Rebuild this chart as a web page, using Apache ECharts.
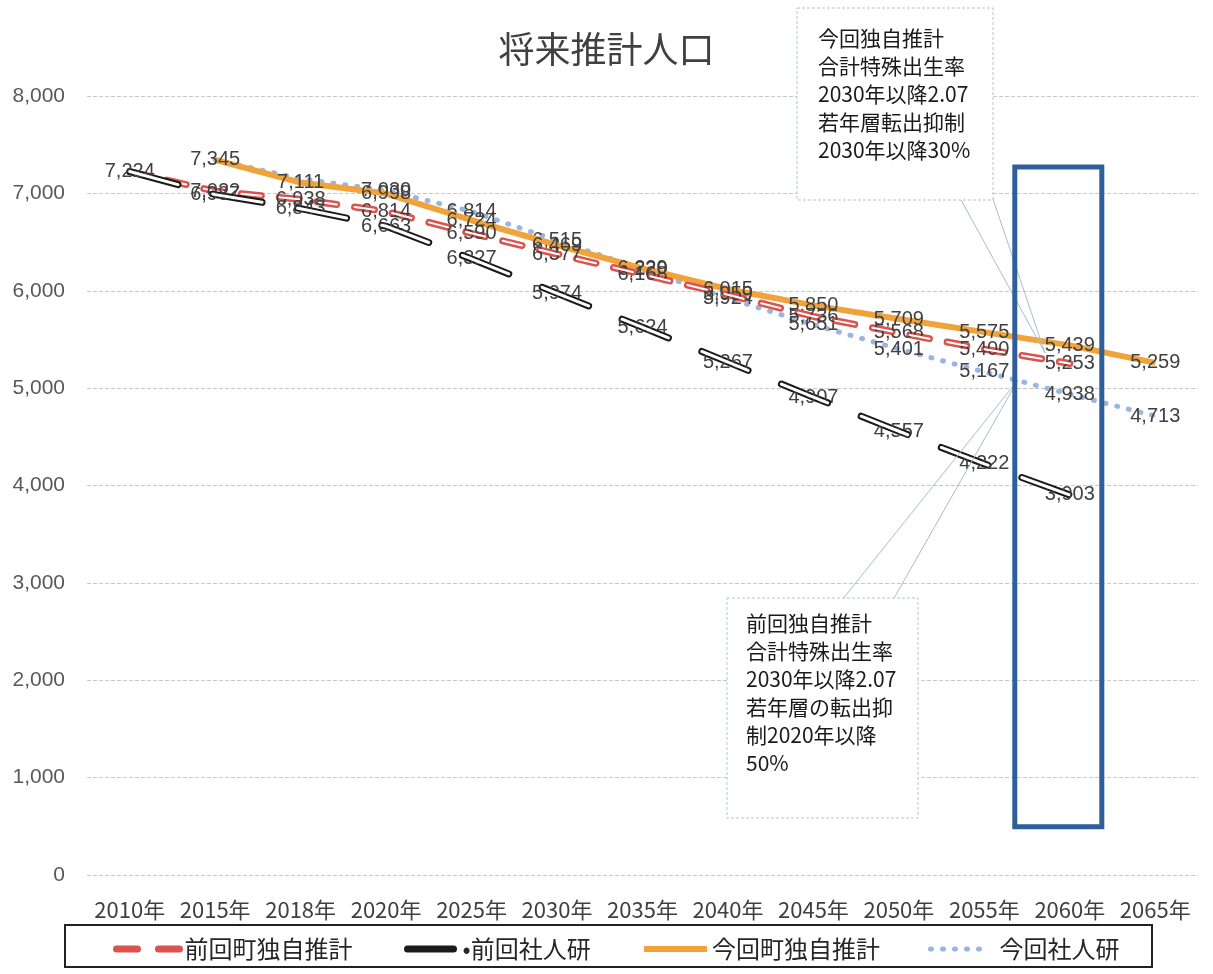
<!DOCTYPE html>
<html>
<head>
<meta charset="utf-8">
<script src="https://cdn.jsdelivr.net/npm/echarts@6/dist/echarts.min.js"></script>
<style>
html,body{margin:0;padding:0;background:#fff;}
#chart{width:1213px;height:974px;}
</style>
</head>
<body>
<div id="chart"></div>
<script>
const categories = ['2010年','2015年','2018年','2020年','2025年','2030年','2035年','2040年','2045年','2050年','2055年','2060年','2065年'];
const prevTown = [7224, 7022, 6938, 6814, 6590, 6377, 6168, 5959, 5736, 5568, 5400, 5253, null];
const prevIpss = [7224, 6987, 6843, 6663, 6327, 5974, 5624, 5267, 4907, 4557, 4222, 3903, null];
const curTown  = [null, 7345, 7111, 6998, 6724, 6469, 6229, 6015, 5850, 5709, 5575, 5439, 5259];
const curIpss  = [null, 7345, 7150, 7030, 6814, 6515, 6220, 5924, 5651, 5401, 5167, 4938, 4713];
const seriesNames = ['前回町独自推計', '前回社人研', '今回町独自推計', '今回社人研'];
const note1 = ['今回独自推計', '合計特殊出生率', '2030年以降2.07', '若年層転出抑制', '2030年以降30%'];
const note2 = ['前回独自推計', '合計特殊出生率', '2030年以降2.07', '若年層の転出抑', '制2020年以降', '50%'];

const FONT = '"Noto Sans CJK JP", "Noto Sans", sans-serif';
const NUMFONT = '"Liberation Sans", "Noto Sans", sans-serif';
function fmt(v){ return Number(v).toLocaleString('en-US'); }
function withHidden(arr, hide){
  return arr.map((v,i)=> hide.includes(i) ? {value:v, label:{show:false}} : v);
}
const labelStyle = {show:true, position:'inside', color:'#404040', fontSize:20, fontFamily:NUMFONT, formatter:p=>fmt(p.value)};
const legendText = {fontSize:24, color:'#262626', fontFamily:FONT};

const chart = echarts.init(document.getElementById('chart'));
const option = {
  backgroundColor:'#fff',
  animation:false,
  title:{text:'将来推計人口', left:'center', top:26, textStyle:{fontSize:36, fontWeight:'normal', color:'#404040', fontFamily:FONT}},
  grid:{left:87, right:15, top:96, bottom:99},
  xAxis:{type:'category', data:categories, boundaryGap:true,
    axisLine:{show:false}, axisTick:{show:false},
    axisLabel:{margin:24, fontSize:22, color:'#404040', fontFamily:FONT, interval:0}},
  yAxis:{type:'value', min:0, max:8000, interval:1000,
    axisLine:{show:false}, axisTick:{show:false},
    axisLabel:{margin:22, fontSize:21, color:'#595959', fontFamily:NUMFONT, formatter:v=>fmt(v)},
    splitLine:{lineStyle:{color:'#c8c8c8', type:[4,2], width:1}}},
  legend:[
    {data:[seriesNames[0]], left:108, top:932, itemWidth:63, itemHeight:14, itemStyle:{opacity:0},
      lineStyle:{type:[21,21], width:7, cap:'round'}, textStyle:Object.assign({padding:[0,0,0,0]}, legendText)},
    {data:[seriesNames[1]], left:399, top:932, itemWidth:46, itemHeight:14, itemStyle:{opacity:0},
      lineStyle:{type:'solid', width:7, cap:'round'}, textStyle:Object.assign({padding:[0,0,0,4]}, legendText), formatter:n=>'•'+n},
    {data:[seriesNames[2]], left:636, top:932, itemWidth:63, itemHeight:14, itemStyle:{opacity:0},
      lineStyle:{width:6}, textStyle:Object.assign({padding:[0,0,0,0]}, legendText)},
    {data:[seriesNames[3]], left:923, top:932, itemWidth:60, itemHeight:14, itemStyle:{opacity:0},
      lineStyle:{type:[1,11], width:5, cap:'round'}, textStyle:Object.assign({padding:[0,0,0,4]}, legendText)}
  ],
  series:[
    {name:seriesNames[3], type:'line', data:withHidden(curIpss,[1,2]), symbol:'circle', symbolSize:1, showSymbol:true, z:2,
      lineStyle:{color:'#9ab5df', width:5, type:[1,11], cap:'round'}, itemStyle:{color:'#9ab5df'},
      label:labelStyle},
    {name:seriesNames[2], type:'line', data:curTown, symbol:'circle', symbolSize:1, showSymbol:true, z:3,
      lineStyle:{color:'#f0a33a', width:6}, itemStyle:{color:'#f0a33a'},
      label:labelStyle},
    {name:seriesNames[0], type:'line', data:withHidden(prevTown,[0]), symbol:'circle', symbolSize:1, showSymbol:true, z:4,
      lineStyle:{color:'#d9534f', width:7, type:[20,18], cap:'round'}, itemStyle:{color:'#d9534f'},
      label:labelStyle},
    {name:'_prevTownInner', type:'line', data:prevTown, symbol:'none', z:5, silent:true,
      lineStyle:{color:'#ffffff', width:2, type:[20,18], cap:'round'}, label:{show:false}},
    {name:seriesNames[1], type:'line', data:prevIpss, symbol:'circle', symbolSize:1, showSymbol:true, z:6,
      lineStyle:{color:'#1a1a1a', width:7, type:[50,36], cap:'round'}, itemStyle:{color:'#1a1a1a'},
      label:labelStyle},
    {name:'_prevIpssInner', type:'line', data:prevIpss, symbol:'none', z:7, silent:true,
      lineStyle:{color:'#ffffff', width:3, type:[50,36], cap:'round'}, label:{show:false}}
  ],
  graphic:[]
};
chart.setOption(option);

// annotations
const c2060 = chart.convertToPixel({xAxisIndex:0}, '2060年');
const yTop = chart.convertToPixel({yAxisIndex:0}, 7270);
const yBot = chart.convertToPixel({yAxisIndex:0}, 495);
const lineH = 28;
const g = [];
g.push({type:'rect', shape:{x:65, y:925, width:1087, height:42}, style:{fill:'none', stroke:'#222', lineWidth:2}, z:50});
g.push({type:'polyline', shape:{points:[[960,198],[1045,353],[992,196]]}, style:{fill:'none', stroke:'#a8bccf', lineWidth:1}, z:60});
g.push({type:'rect', shape:{x:797, y:8, width:196, height:192}, style:{fill:'#fff', stroke:'#b5c4d2', lineWidth:1, lineDash:[3,2]}, z:61});
g.push({type:'text', x:818, y:24, style:{text:note1.join('\n'), fontSize:21, lineHeight:lineH, fill:'#1a1a1a', fontFamily:FONT}, z:62});
g.push({type:'polyline', shape:{points:[[842,600],[1018,380],[893,600]]}, style:{fill:'none', stroke:'#a8bccf', lineWidth:1}, z:60});
g.push({type:'rect', shape:{x:727, y:598, width:191, height:220}, style:{fill:'#fff', stroke:'#b5c4d2', lineWidth:1, lineDash:[3,2]}, z:61});
g.push({type:'text', x:746, y:609, style:{text:note2.join('\n'), fontSize:21, lineHeight:lineH, fill:'#1a1a1a', fontFamily:FONT}, z:62});
g.push({type:'rect', shape:{x:c2060-55, y:yTop, width:87, height:yBot-yTop}, style:{fill:'none', stroke:'#2e5f9a', lineWidth:5}, z:70});
chart.setOption({graphic:g});
</script>
</body>
</html>
